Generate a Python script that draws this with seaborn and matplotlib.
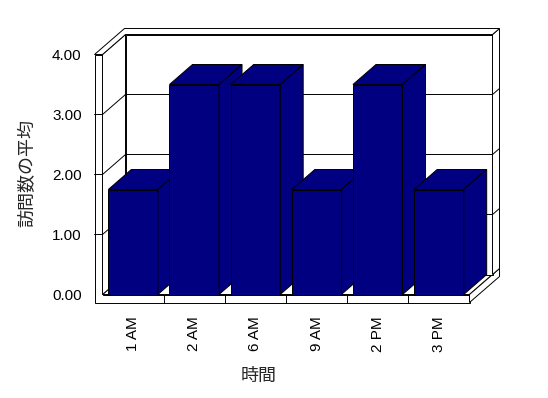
import matplotlib
matplotlib.use("Agg")
import matplotlib.pyplot as plt
import seaborn as sns
from matplotlib.patches import Polygon
from matplotlib.lines import Line2D

# ---- data ----
categories = ["1 AM", "2 AM", "6 AM", "9 AM", "2 PM", "3 PM"]
values = [1.75, 3.5, 3.5, 1.75, 3.5, 1.75]
yticks = [0, 1, 2, 3, 4]
ytick_labels = ["0.00", "1.00", "2.00", "3.00", "4.00"]
xlabel = "時間"
ylabel = "訪問数の平均"

sns.set_style("white")
plt.rcParams["font.family"] = ["Liberation Sans", "DejaVu Sans"]

W, H = 548, 398
fig = plt.figure(figsize=(W / 100, H / 100), dpi=100)
ax_l, ax_b, ax_w, ax_h = 102.5, 103.5, 367, 240
ax = fig.add_axes([ax_l / W, ax_b / H, ax_w / W, ax_h / H])
ax.set_facecolor("none")

NAVY = "#000080"
LW = 0.7
sns.barplot(x=categories, y=values, color=NAVY, saturation=1, width=0.81,
            edgecolor="black", linewidth=LW, ax=ax)
ax.set_xlim(-0.5, 5.5)
ax.set_ylim(0, 4)
for s in ax.spines.values():
    s.set_visible(False)
ax.grid(False)

# pixel -> data conversion
sx = 6 / ax_w
sy = 4 / ax_h
DX, DY = 23 * sx, 20 * sy        # back plane offset
DXo, DYo = 30 * sx, 26 * sy      # outer wall offset
EX, EY = 8 * sx, 8 * sy          # wall / floor thickness

def poly(pts, z, fc="white"):
    p = Polygon(pts, closed=True, facecolor=fc, edgecolor="black",
                linewidth=LW, zorder=z, clip_on=False, joinstyle="miter")
    ax.add_patch(p)

def line(xs, ys, z=2):
    ax.add_line(Line2D(xs, ys, color="black", linewidth=LW, zorder=z,
                       clip_on=False))

# walls and floor
x0, x1 = -0.5, 5.5
poly([(x0 - EX, -EY), (x1, -EY), (x1, 0), (x0, 0), (x0, 4), (x0 - EX, 4)], 1)
poly([(x0, 0), (x1, 0), (x1 + DX, DY), (x0 + DX, DY)], 1)
poly([(x1, 0), (x1, -EY), (x1 + DXo, -EY + DYo), (x1 + DXo, DYo)], 1)
poly([(x0, 0), (x0, 4), (x0 + DX, 4 + DY), (x0 + DX, DY)], 1)
poly([(x0 + DX, DY), (x1 + DX, DY), (x1 + DX, 4 + DY), (x0 + DX, 4 + DY)], 1)
poly([(x1 + DX, DY), (x1 + DXo, DYo), (x1 + DXo, 4 + DYo), (x1 + DX, 4 + DY)], 1)
poly([(x0 - EX, 4), (x0 - EX + DXo, 4 + DYo), (x1 + DXo, 4 + DYo),
      (x1 + DX, 4 + DY), (x0 + DX, 4 + DY), (x0, 4)], 1)

# gridlines
for v in yticks[1:-1]:
    line([x0 - EX, x0, x0 + DX, x1 + DX, x1 + DXo],
         [v, v, v + DY, v + DY, v + DYo])

# category ticks on floor front
for i in range(len(categories) - 1):
    line([i + 0.5, i + 0.5], [-EY, 0])

# 3D bars
for i, p in enumerate(ax.patches[:len(values)]):
    bx, bw, bh = p.get_x(), p.get_width(), p.get_height()
    z = 10 + 3 * i
    p.set_zorder(z)
    p.set_clip_on(False)
    poly([(bx, bh), (bx + bw, bh), (bx + bw + DX, bh + DY), (bx + DX, bh + DY)],
         z + 1, NAVY)
    poly([(bx + bw, 0), (bx + bw, bh), (bx + bw + DX, bh + DY), (bx + bw + DX, DY)],
         z + 1, NAVY)

ax.set_yticks(yticks)
ax.set_yticklabels(ytick_labels)
ax.tick_params(axis="both", length=0, labelsize=11, colors="black")
ax.tick_params(axis="y", pad=15)
ax.tick_params(axis="x", pad=15.5, labelrotation=90)

ax.set_xlabel(xlabel, family=["Noto Sans CJK JP", "DejaVu Sans"], fontsize=13)
ax.set_ylabel(ylabel, family=["Noto Sans CJK JP", "DejaVu Sans"], fontsize=13)
ax.xaxis.set_label_coords(0.426, -0.3)
ax.yaxis.set_label_coords(-0.18, 0.508)

fig.savefig("out.png", dpi=100, facecolor="white")
